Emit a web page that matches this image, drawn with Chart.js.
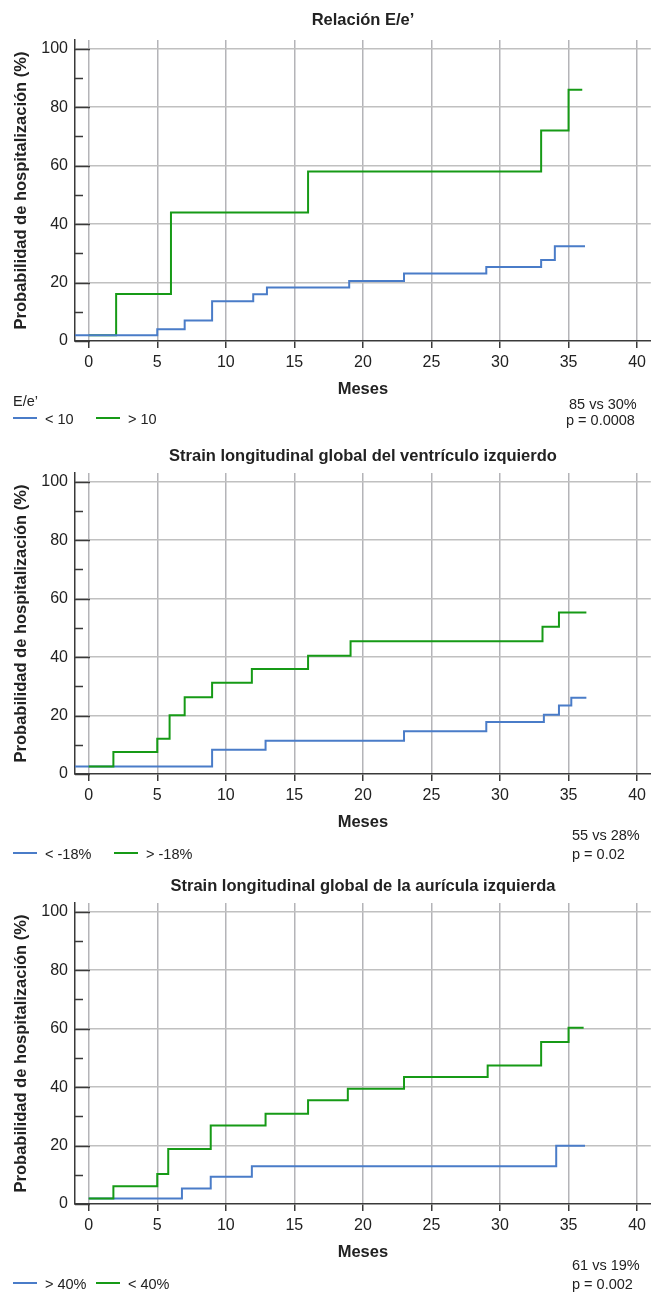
<!DOCTYPE html>
<html>
<head>
<meta charset="utf-8">
<script src="https://cdn.jsdelivr.net/npm/chart.js@4/dist/chart.umd.min.js"></script>
<style>
  html, body { margin: 0; padding: 0; background: #fff; }
  body { width: 651px; height: 1292px; position: relative; overflow: hidden; font-family: 'Liberation Sans', Arial, sans-serif; color: #222; }
  .panel { position: absolute; left: 0; width: 651px; height: 429px; }
  .panel canvas { display: block; }
  .title { position: absolute; left: 75px; width: 576px; text-align: center; font-weight: bold; font-size: 16.5px; line-height: 17px; white-space: nowrap; }
  .txt { position: absolute; font-family: 'Liberation Sans', Arial, sans-serif; font-size: 14.5px; line-height: 16px; white-space: nowrap; color: #222; }
  .leg { position: absolute; height: 2px; width: 24px; }
</style>
</head>
<body>
<div class="panel" style="top:0px"><canvas id="c1" width="651" height="429"></canvas></div>
<div class="panel" style="top:433px"><canvas id="c2" width="651" height="429"></canvas></div>
<div class="panel" style="top:863px"><canvas id="c3" width="651" height="429"></canvas></div>

<div class="title" style="top:11px">Relación E/e’</div>
<div class="title" style="top:447px">Strain longitudinal global del ventrículo izquierdo</div>
<div class="title" style="top:877px">Strain longitudinal global de la aurícula izquierda</div>

<!-- legends / annotations panel 1 -->
<div class="txt" style="left:13px;top:393px">E/e’</div>
<div class="leg" style="left:13px;top:417px;background:#4a7cc8"></div>
<div class="txt" style="left:45px;top:411px">&lt; 10</div>
<div class="leg" style="left:96px;top:417px;background:#169a16"></div>
<div class="txt" style="left:128px;top:411px">&gt; 10</div>
<div class="txt" style="left:569px;top:396px">85 vs 30%</div>
<div class="txt" style="left:566px;top:412px">p = 0.0008</div>

<!-- panel 2 -->
<div class="leg" style="left:13px;top:852px;background:#4a7cc8"></div>
<div class="txt" style="left:45px;top:846px">&lt; -18%</div>
<div class="leg" style="left:114px;top:852px;background:#169a16"></div>
<div class="txt" style="left:146px;top:846px">&gt; -18%</div>
<div class="txt" style="left:572px;top:827px">55 vs 28%</div>
<div class="txt" style="left:572px;top:846px">p = 0.02</div>

<!-- panel 3 -->
<div class="leg" style="left:13px;top:1282px;background:#4a7cc8"></div>
<div class="txt" style="left:45px;top:1276px">&gt; 40%</div>
<div class="leg" style="left:96px;top:1282px;background:#169a16"></div>
<div class="txt" style="left:128px;top:1276px">&lt; 40%</div>
<div class="txt" style="left:572px;top:1257px">61 vs 19%</div>
<div class="txt" style="left:572px;top:1276px">p = 0.002</div>

<script>
// ---- axis ticks ----
const XTICKS = [0, 5, 10, 15, 20, 25, 30, 35, 40];
const YTICKS = [0, 20, 40, 60, 80, 100];
const YMINOR = [10, 30, 50, 70, 90];

// ---- Panel 1: Relación E/e' (months, % hospitalization) ----
const ee_lt10_t = [-1, 5, 7, 9, 12, 13, 19, 23, 29, 33, 34, 36.2];
const ee_lt10_v = [2, 4, 7, 13.6, 16, 18.3, 20.5, 23.1, 25.3, 27.7, 32.4, 32.4];
const ee_gt10_t = [0, 2, 6, 16, 33, 35, 36];
const ee_gt10_v = [2, 16.1, 44, 58, 72, 86, 86];

// ---- Panel 2: Strain longitudinal global VI ----
const vi_lt18_t = [-1, 9, 12.9, 23, 29, 33.2, 34.3, 35.2, 36.3];
const vi_lt18_v = [2.6, 8.3, 11.4, 14.6, 17.8, 20.3, 23.4, 26.1, 26.1];
const vi_gt18_t = [0, 1.8, 5, 5.9, 7, 9, 11.9, 16, 19.1, 33.1, 34.3, 36.3];
const vi_gt18_v = [2.6, 7.5, 12.1, 20.1, 26.3, 31.2, 35.9, 40.5, 45.4, 50.4, 55.3, 55.3];

// ---- Panel 3: Strain longitudinal global AI ----
const ai_gt40_t = [0, 6.8, 8.9, 11.9, 34.1, 36.2];
const ai_gt40_v = [1.9, 5.3, 9.3, 12.9, 19.9, 19.9];
const ai_lt40_t = [0, 1.8, 5, 5.8, 8.9, 12.9, 16, 18.9, 23, 29.1, 33, 35, 36.1];
const ai_lt40_v = [1.9, 6.1, 10.3, 18.8, 26.9, 30.9, 35.5, 39.4, 43.5, 47.4, 55.4, 60.3, 60.3];

const BLUE = '#4a7cc8';
const GREEN = '#169a16';
const AXIS = '#3a3a3a';
const GRID = '#b4b4b8';
const FONT = "'Liberation Sans', Arial, sans-serif";

function pts(t, v) { return t.map((x, i) => ({ x: x, y: v[i] })); }

const yTickMarks = {
  id: 'yTickMarks',
  beforeDatasetsDraw(chart) {
    const ys = chart.scales.y, ctx = chart.ctx, left = chart.chartArea.left;
    ctx.save();
    ctx.strokeStyle = AXIS;
    ctx.lineWidth = 1.5;
    ctx.beginPath();
    YTICKS.forEach(v => { const p = Math.round(ys.getPixelForValue(v)) + 0.5; ctx.moveTo(left, p); ctx.lineTo(left + 15, p); });
    YMINOR.forEach(v => { const p = Math.round(ys.getPixelForValue(v)) + 0.5; ctx.moveTo(left, p); ctx.lineTo(left + 8, p); });
    ctx.stroke();
    ctx.restore();
  }
};

function ds(label, t, v, color, order) {
  return { label, data: pts(t, v), stepped: 'before', borderColor: color, backgroundColor: color,
           borderWidth: 2, pointRadius: 0, fill: false, tension: 0, order };
}

function makeChart(id, datasets) {
  new Chart(document.getElementById(id), {
    type: 'line',
    data: { datasets },
    plugins: [yTickMarks],
    options: {
      responsive: false,
      animation: false,
      events: [],
      layout: { padding: { top: 40, left: 0, right: 0, bottom: 30 } },
      plugins: { legend: { display: false }, title: { display: false }, tooltip: { enabled: false } },
      scales: {
        x: {
          type: 'linear', min: -1, max: 41,
          afterBuildTicks: s => { s.ticks = XTICKS.map(v => ({ value: v })); },
          afterFit: s => { s.height = 58; },
          grid: { color: GRID, lineWidth: 1.5, drawTicks: true, tickLength: 7, tickColor: AXIS, tickWidth: 1.5 },
          border: { display: true, color: AXIS, width: 1.5 },
          ticks: { color: '#222', padding: 5, maxRotation: 0, autoSkip: false,
                   font: { family: FONT, size: 16 } },
          title: { display: true, text: 'Meses', color: '#222', padding: { top: 0, bottom: 0 },
                   font: { family: FONT, size: 16.5, weight: 'bold' } }
        },
        y: {
          type: 'linear', min: 0, max: 103,
          afterBuildTicks: s => { s.ticks = YTICKS.map(v => ({ value: v })); },
          afterFit: s => { s.width = 75; },
          grid: { color: ctx => (ctx.tick && ctx.tick.value === 0) ? 'rgba(0,0,0,0)' : '#c0c0c0', lineWidth: 1.5, drawTicks: false },
          border: { display: true, color: AXIS, width: 1.5 },
          ticks: { color: '#222', padding: 7,
                   font: { family: FONT, size: 16 } },
          title: { display: true, text: 'Probabilidad de hospitalización (%)', color: '#222', padding: { top: 12, bottom: 0 },
                   font: { family: FONT, size: 16.5, weight: 'bold' } }
        }
      }
    }
  });
}

makeChart('c1', [
  ds('< 10', ee_lt10_t, ee_lt10_v, BLUE, 0),
  ds('> 10', ee_gt10_t, ee_gt10_v, GREEN, 1)
]);
makeChart('c2', [
  ds('< -18%', vi_lt18_t, vi_lt18_v, BLUE, 1),
  ds('> -18%', vi_gt18_t, vi_gt18_v, GREEN, 0)
]);
makeChart('c3', [
  ds('> 40%', ai_gt40_t, ai_gt40_v, BLUE, 1),
  ds('< 40%', ai_lt40_t, ai_lt40_v, GREEN, 0)
]);
</script>
</body>
</html>
